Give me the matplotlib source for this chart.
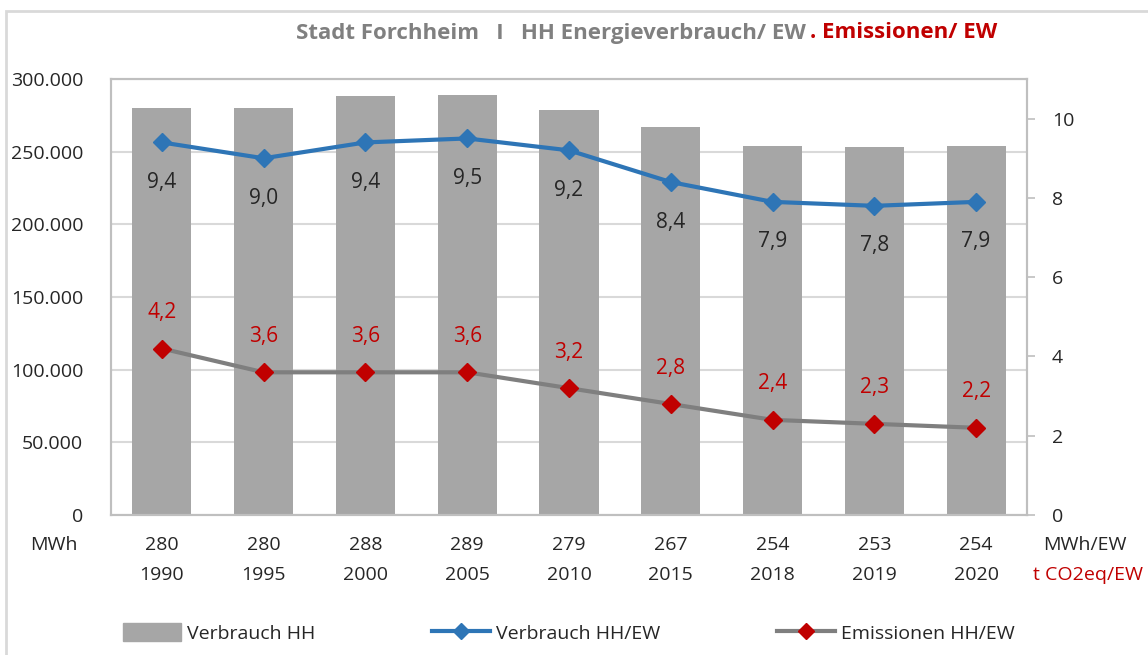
import matplotlib.pyplot as plt
import matplotlib.patches as mpatches
from matplotlib.lines import Line2D
from matplotlib.ticker import FuncFormatter

plt.rcParams['font.family'] = ['Open Sans', 'DejaVu Sans']

years = ['1990', '1995', '2000', '2005', '2010', '2015', '2018', '2019', '2020']
verbrauch_hh = [280000, 280000, 288000, 289000, 279000, 267000, 254000, 253000, 254000]
verbrauch_label = [280, 280, 288, 289, 279, 267, 254, 253, 254]
verbrauch_ew = [9.4, 9.0, 9.4, 9.5, 9.2, 8.4, 7.9, 7.8, 7.9]
emission_ew = [4.2, 3.6, 3.6, 3.6, 3.2, 2.8, 2.4, 2.3, 2.2]

GREY_BAR = '#a6a6a6'
BLUE = '#2e75b6'
RED = '#c00000'
LINE_GREY = '#7f7f7f'
TXT = '#262626'
FS = 14

W, H = 1148, 655
fig = plt.figure(figsize=(W / 100, H / 100), dpi=100)

# outer chart frame
fig.patches.append(mpatches.Rectangle((6 / W, -0.2), 1.2, (H - 11) / H + 0.2,
                                      transform=fig.transFigure, fill=False,
                                      edgecolor='#d9d9d9', lw=2, clip_on=False))

ax = fig.add_axes([111 / W, (H - 515) / H, 916 / W, 436 / H])
x = list(range(len(years)))
ax.bar(x, verbrauch_hh, width=0.58, color=GREY_BAR, zorder=2)
ax.set_xlim(-0.5, len(years) - 0.5)
ax.set_ylim(0, 300000)
ax.set_yticks(range(0, 300001, 50000))
ax.yaxis.set_major_formatter(FuncFormatter(lambda v, p: f"{int(v):,}".replace(',', '.')))
ax.grid(axis='y', color='#d9d9d9', lw=1.5, zorder=0)
ax.set_axisbelow(True)
ax.tick_params(axis='y', length=0, pad=20, labelsize=FS, labelcolor=TXT)
ax.set_xticks([])
for s in ax.spines.values():
    s.set_color('#bfbfbf')
    s.set_linewidth(1.5)

for i in x:
    ax.text(i, -0.069, str(verbrauch_label[i]), transform=ax.get_xaxis_transform(),
            ha='center', va='center', fontsize=FS, color=TXT)
    ax.text(i, -0.138, years[i], transform=ax.get_xaxis_transform(),
            ha='center', va='center', fontsize=FS, color=TXT)
ax.text(-0.062, -0.069, 'MWh', transform=ax.transAxes, ha='center', va='center',
        fontsize=FS, color=TXT)
ax.text(1.063, -0.069, 'MWh/EW', transform=ax.transAxes, ha='center', va='center',
        fontsize=FS, color=TXT)
ax.text(1.067, -0.138, 't CO2eq/EW', transform=ax.transAxes, ha='center', va='center',
        fontsize=FS, color=RED)

ax2 = ax.twinx()
ax2.set_ylim(0, 11)
ax2.set_yticks(range(0, 11, 2))
ax2.tick_params(axis='y', length=6, width=1.2, color='#bfbfbf', pad=12,
                labelsize=FS, labelcolor=TXT)
for s in ax2.spines.values():
    s.set_color('#bfbfbf')
    s.set_linewidth(1.5)

ax2.plot(x, verbrauch_ew, color=BLUE, lw=3, marker='D', markersize=9,
         markerfacecolor=BLUE, markeredgecolor=BLUE, zorder=3)
ax2.plot(x, emission_ew, color=LINE_GREY, lw=3, marker='D', markersize=9,
         markerfacecolor=RED, markeredgecolor=RED, zorder=3)

for i in x:
    ax2.annotate(f"{verbrauch_ew[i]:.1f}".replace('.', ','), (i, verbrauch_ew[i]),
                 xytext=(0, -40), textcoords='offset pixels', ha='center', va='center',
                 fontsize=15, color=TXT)
    ax2.annotate(f"{emission_ew[i]:.1f}".replace('.', ','), (i, emission_ew[i]),
                 xytext=(0, 36), textcoords='offset pixels', ha='center', va='center',
                 fontsize=15, color=RED)

# title
fig.text(806 / W, 1 - 33 / H, 'Stadt Forchheim   I   HH Energieverbrauch/ EW',
         ha='right', va='center', fontsize=16, fontweight='bold', color='#808080')
fig.text(810 / W, 1 - 33 / H, '. Emissionen/ EW', ha='left', va='center',
         fontsize=16, fontweight='bold', color=RED)

handles = [
    mpatches.Patch(color=GREY_BAR, label='Verbrauch HH'),
    Line2D([], [], color=BLUE, lw=3, marker='D', markersize=8,
           markerfacecolor=BLUE, markeredgecolor=BLUE, label='Verbrauch HH/EW'),
    Line2D([], [], color=LINE_GREY, lw=3, marker='D', markersize=8,
           markerfacecolor=RED, markeredgecolor=RED, label='Emissionen HH/EW'),
]
fig.legend(handles=handles, loc='center left', bbox_to_anchor=(105 / W, 1 - 633 / H),
           ncol=3, frameon=False, fontsize=FS, handlelength=3.0, handleheight=1.0,
           columnspacing=6.0, handletextpad=0.3, labelcolor=TXT)

fig.savefig('out.png', dpi=100)
